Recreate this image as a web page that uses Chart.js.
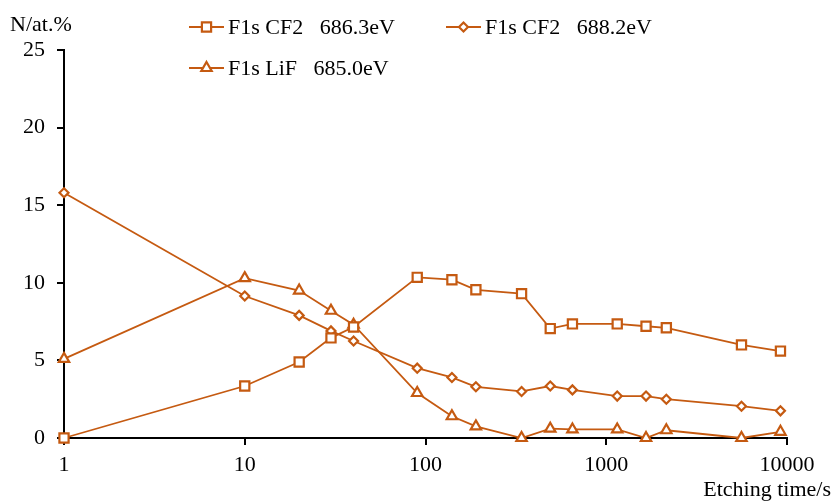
<!DOCTYPE html>
<html>
<head>
<meta charset="utf-8">
<script src="https://cdn.jsdelivr.net/npm/chart.js@4/dist/chart.umd.min.js"></script>
<style>
  body { margin: 0; background: #fff; }
  #box { width: 833px; height: 502px; }
</style>
</head>
<body>
<div id="box"><canvas id="xpsChart" width="833" height="502"></canvas></div>
<script>
// etching time (s); the unetched sample is put at t = 1 on the log axis
const etchTime = [1, 10, 20, 30, 40, 90, 140, 190, 340, 490, 650, 1150, 1660, 2150, 5600, 9200];
const cf2Low  = [0, 3.35, 4.9, 6.45, 7.15, 10.35, 10.2, 9.55, 9.3, 7.05, 7.35, 7.35, 7.2, 7.1, 6.0, 5.6];
const cf2High = [15.8, 9.15, 7.9, 6.9, 6.25, 4.5, 3.9, 3.3, 3.0, 3.35, 3.1, 2.7, 2.7, 2.5, 2.05, 1.75];
const lif     = [5.1, 10.3, 9.5, 8.2, 7.3, 2.9, 1.4, 0.75, 0, 0.6, 0.55, 0.55, 0, 0.5, 0, 0.4];

const seriesNames = ['F1s CF2   686.3eV', 'F1s CF2   688.2eV', 'F1s LiF   685.0eV'];
const xTicks = [1, 10, 100, 1000, 10000];
const yMax = 25;
const yStep = 5;

const orange = '#C55A11';
const serif = 'Liberation Serif, Times New Roman, serif';
const fontPx = 22;

function pts(vals) {
  return etchTime.map((t, i) => ({ x: t, y: vals[i] }));
}

function series(label, vals, style, r) {
  return {
    label: label,
    data: pts(vals),
    borderColor: orange,
    backgroundColor: '#fff',
    borderWidth: 1.8,
    pointStyle: style,
    pointRadius: r,
    pointBorderWidth: 2.2,
    pointBorderColor: orange,
    pointBackgroundColor: '#fff',
    clip: false,
    tension: 0
  };
}

// legend and axis titles drawn by hand so they sit where they should
const decor = {
  id: 'decor',
  afterDraw(chart) {
    const ctx = chart.ctx;
    const spots = [[189, 27], [446, 27], [189, 68]];
    ctx.save();
    chart.data.datasets.forEach((ds, i) => {
      const [x, y] = spots[i];
      ctx.strokeStyle = orange;
      ctx.lineWidth = 1.8;
      ctx.beginPath();
      ctx.moveTo(x, y);
      ctx.lineTo(x + 35, y);
      ctx.stroke();
      ctx.fillStyle = '#fff';
      ctx.lineWidth = 2.2;
      Chart.helpers.drawPoint(ctx, {
        pointStyle: ds.pointStyle,
        rotation: 0,
        radius: ds.pointRadius,
        borderWidth: 2.2
      }, x + 17.5, y);
      ctx.fillStyle = '#000';
      ctx.font = fontPx + 'px ' + serif;
      ctx.textAlign = 'left';
      ctx.textBaseline = 'middle';
      ctx.fillText(ds.label, x + 39, y + 1);
    });
    ctx.fillStyle = '#000';
    ctx.font = fontPx + 'px ' + serif;
    ctx.textBaseline = 'middle';
    ctx.textAlign = 'left';
    ctx.fillText('N/at.%', 10, 25);
    ctx.textAlign = 'right';
    ctx.fillText('Etching time/s', 831, 490);
    ctx.restore();
  }
};

const axisGrid = {
  drawOnChartArea: false,
  drawTicks: true,
  tickLength: 7,
  color: '#000',
  lineWidth: 2
};

new Chart(document.getElementById('xpsChart'), {
  type: 'line',
  data: {
    datasets: [
      series(seriesNames[0], cf2Low, 'rect', 6.5),
      series(seriesNames[1], cf2High, 'rectRot', 4.5),
      series(seriesNames[2], lif, 'triangle', 6)
    ]
  },
  options: {
    responsive: false,
    animation: false,
    layout: { padding: { top: 50, right: 46, left: 0, bottom: 0 } },
    plugins: {
      legend: { display: false },
      tooltip: { enabled: false }
    },
    scales: {
      x: {
        type: 'logarithmic',
        min: 1,
        max: 10000,
        afterBuildTicks: s => { s.ticks = xTicks.map(v => ({ value: v })); },
        afterFit: s => { s.height = 64; },
        grid: axisGrid,
        border: { color: '#000', width: 2 },
        ticks: {
          callback: v => String(v),
          color: '#000',
          font: { family: serif, size: fontPx },
          maxRotation: 0,
          autoSkip: false,
          padding: 7
        }
      },
      y: {
        min: 0,
        max: yMax,
        afterFit: s => { s.width = 64; },
        grid: axisGrid,
        border: { color: '#000', width: 2 },
        ticks: {
          stepSize: yStep,
          color: '#000',
          font: { family: serif, size: fontPx },
          padding: 12
        }
      }
    }
  },
  plugins: [decor]
});
</script>
</body>
</html>
